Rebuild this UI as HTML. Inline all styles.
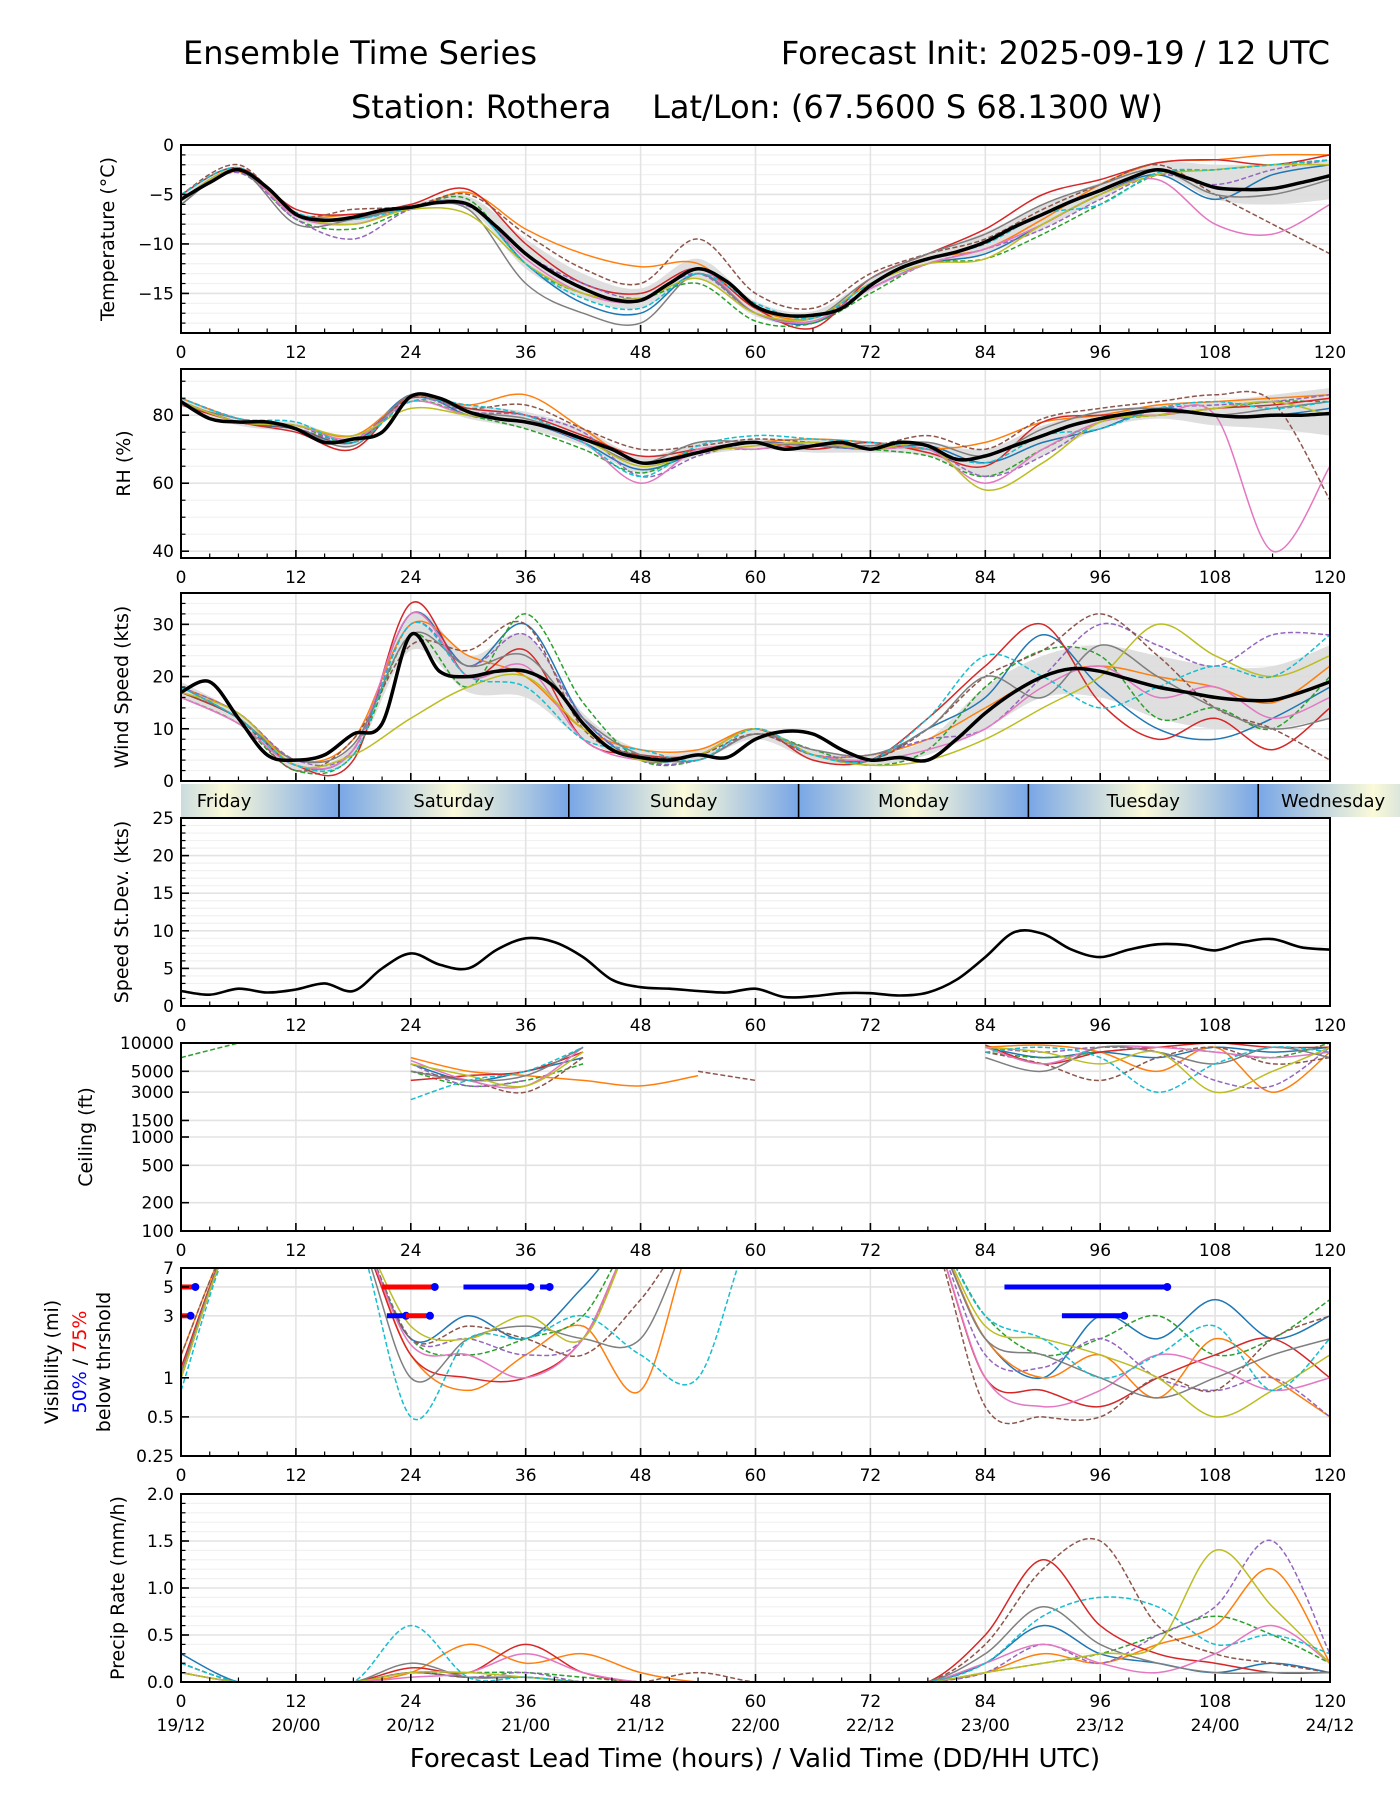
<!DOCTYPE html>
<html><head><meta charset="utf-8"><style>
html,body{margin:0;padding:0;background:#fff;}
svg{display:block;font-family:"DejaVu Sans","Liberation Sans",sans-serif;}
</style></head><body>
<svg id="fig" width="1400" height="1800" viewBox="0 0 1400 1800" xmlns="http://www.w3.org/2000/svg">
<defs>
<linearGradient id="dayg" gradientUnits="userSpaceOnUse" x1="339" y1="0" x2="568.8" y2="0" spreadMethod="repeat">
<stop offset="0" stop-color="#78a6e6"/><stop offset="0.5" stop-color="#fbfad9"/><stop offset="1" stop-color="#78a6e6"/>
</linearGradient>
</defs>
<text x="183" y="64" font-size="32">Ensemble Time Series</text>
<text x="1330" y="64" font-size="32" text-anchor="end">Forecast Init: 2025-09-19 / 12 UTC</text>
<text x="757" y="118" font-size="32" text-anchor="middle" xml:space="preserve" style="white-space:pre">Station: Rothera    Lat/Lon: (67.5600 S 68.1300 W)</text>
<g id="root"></g>
</svg>
<script>
const HM=[0,3,6,9,12,15,18,21,24,27,30,33,36,39,42,45,48,51,54,57,60,63,66,69,72,75,78,81,84,87,90,93,96,99,102,105,108,111,114,117,120];
const H6=[0,6,12,18,24,30,36,42,48,54,60,66,72,78,84,90,96,102,108,114,120];
const COLORS=['#1f77b4','#ff7f0e','#2ca02c','#d62728','#9467bd','#8c564b','#e377c2','#7f7f7f','#bcbd22','#17becf'];
const DASHED=[false,false,true,false,true,true,false,false,false,true];

const tempMean=[-5.5,-3.8,-2.5,-4.3,-7,-7.6,-7.3,-6.6,-6.3,-5.8,-6.0,-8.3,-11,-13,-14.5,-15.6,-15.7,-14,-12.5,-13.8,-16.3,-17.2,-17.2,-16.5,-14.2,-12.5,-11.5,-10.8,-9.8,-8.3,-7,-5.7,-4.6,-3.4,-2.5,-3.3,-4.3,-4.5,-4.4,-3.8,-3.1];
const tempLo=[-5.8,-2.8,-7.5,-8,-6.5,-6.5,-12.5,-15.5,-16.5,-13.5,-17.3,-18,-14.8,-12,-11,-8.5,-5.5,-3,-5.5,-6,-5.5];
const tempHi=[-5,-2.2,-6.7,-7,-6,-5.2,-9.5,-13,-14.5,-11.5,-15.8,-16.8,-13.5,-11,-8.8,-6,-3.8,-1.8,-2,-2,-1.5];
const tempMembers=[
[-5.5,-2.5,-7,-7.5,-6.2,-6,-12,-16,-17,-13,-17,-18,-14.5,-12,-11,-8,-5,-3,-5.5,-3,-2],
[-5.5,-2.7,-7,-7,-6.5,-4.8,-8.5,-11,-12.3,-12,-16.5,-17.5,-14,-11.5,-10.5,-7.5,-4,-1.8,-1.5,-1,-1],
[-6,-2.5,-7.5,-8.5,-6.5,-5.5,-12,-15,-15.5,-14,-17.8,-18,-15,-12,-11.5,-9,-6,-3,-2.5,-2,-1.5],
[-5,-2.3,-6.5,-7,-6,-4.5,-10,-14,-15,-12.5,-16.5,-18.5,-13.5,-11,-8.5,-5,-3.5,-1.8,-1.5,-2,-1],
[-5.5,-2.8,-7.5,-9.5,-6.5,-6.2,-11,-14,-15.5,-13,-17,-17.5,-14.5,-12,-10.5,-8.5,-5.5,-3,-4,-2.5,-1.5],
[-5,-2,-7,-6.5,-6.2,-5,-9,-12.5,-14,-9.5,-15,-16.5,-13,-11,-9.5,-6.5,-4,-2,-5,-8,-11],
[-5.5,-2.6,-7.2,-8,-6.3,-6,-11.5,-15,-15.8,-12.5,-17,-17.8,-14.5,-12,-10.5,-8,-5,-3.5,-8,-9,-6],
[-6,-2.6,-8,-7.5,-6.3,-6.5,-14,-17,-18,-13,-17,-17.5,-13.5,-11,-9,-6,-4,-2.5,-5,-5,-3.5],
[-5.5,-2.5,-7,-8,-6.5,-7,-12,-15,-15.5,-13.5,-17,-17.5,-14,-12,-11.5,-8,-5,-3,-2.5,-2,-2],
[-5,-2.3,-6.8,-7.5,-6.4,-6,-12,-15.5,-16.5,-13,-16,-17.5,-14,-11.5,-10,-7,-6,-2.8,-2.5,-2,-1.5]];

const rhMean=[84,79,78,78,76,72,73,75,85.5,85,81,79,78,76,73,70,66,67,69,71,72,70,71,72,70,72,71,67,68,71,74,77,79,80.5,81.5,81,80,79.5,80,80,80.5];
const rhLo=[83,77,75,71,84,79,76,71,63,68,70,69,69,68,62,68,76,79,77,76,74];
const rhHi=[85,79,78,74,86,83,81,76,68,72,73,73,72,72,70,77,81,83,84,86,88];
const rhMembers=[
[84,78,76,72,86,80,78,72,64,69,72,71,70,71,66,72,76,82,80,80,82],
[85,79,77,74,85,83,86,76,66,70,72,73,72,70,72,78,80,83,84,85,86],
[84,78,77,72,84,80,76,70,63,70,70,72,70,68,62,70,78,80,82,84,84],
[83,78,75,70,86,82,80,74,68,70,72,70,72,69,65,78,80,80,82,83,85],
[85,79,76,73,85,81,80,75,62,68,72,71,70,70,62,68,78,82,83,84,86],
[84,78,76,72,85,82,83,76,70,71,73,72,71,74,70,79,82,84,86,84,55],
[84,78,77,73,84,80,78,72,60,70,70,72,70,70,60,70,78,80,80,40,65],
[83,79,76,71,86,81,79,73,66,72,72,71,71,72,68,76,81,82,80,82,84],
[84,78,77,74,82,80,78,73,65,69,71,72,70,71,58,66,78,80,82,84,80],
[85,79,78,72,84,83,80,72,62,71,74,73,72,70,66,74,76,82,84,82,84]];

const windMean=[17,19,12,5,4,5,9,11,28,21,20,21,21,18,11,6,4.5,4,5,4.5,8,9.5,9,6,4,4.5,4,8,13,17,20,21.5,21,19.5,18,17,16,15.5,15.5,17,19];
const windLo=[16,11,2,5,25,17,16,8,4,4,8,4,3,5,10,16,16,12,10,10,12];
const windHi=[19,13,4,7,32,24,28,13,6,6,10,6,5,8,18,24,26,24,22,22,26];
const windMembers=[
[17,12,3,6,32,22,30,12,4,5,10,5,4,10,16,28,18,10,8,12,18],
[18,13,4,8,30,24,20,10,6,6,10,5,5,8,14,20,22,20,18,15,22],
[16,11,2,5,28,18,32,15,4,4,9,6,3,6,18,25,24,12,14,10,20],
[17,12,3,4,34,20,25,8,5,5,10,4,4,12,22,30,15,8,12,6,14],
[18,13,4,6,30,22,28,12,4,4,9,5,5,8,10,20,30,26,22,28,28],
[17,12,2,8,26,25,30,10,5,5,9,5,4,10,20,25,32,24,14,10,4],
[16,11,3,6,32,20,22,8,4,5,10,5,4,6,10,18,22,16,18,12,16],
[18,12,4,7,28,22,24,12,5,4,9,6,5,10,20,16,26,20,14,10,12],
[17,13,3,5,12,18,20,10,4,5,10,5,3,4,8,14,20,30,24,20,24],
[18,12,3,5,30,20,18,8,6,4,10,5,4,12,24,20,14,18,22,20,28]];

const sdMean=[2,1.5,2.3,1.8,2.2,3,2,5,7,5.5,5,7.5,9,8.5,6.5,3.5,2.5,2.3,2,1.8,2.3,1.2,1.3,1.7,1.7,1.4,1.8,3.5,6.5,9.8,9.6,7.5,6.5,7.5,8.2,8.1,7.4,8.5,8.9,7.8,7.5];

const ceilMembers=[
[8000,null,null,null,6000,4000,5000,7000,null,null,null,null,null,null,9000,7000,8000,7000,9000,8000,9000],
[9000,null,null,null,7000,5000,4500,4000,3500,4500,null,null,null,null,9000,9500,8000,5000,9000,3000,8000],
[7000,10000,null,null,5000,3500,4000,6000,null,null,null,null,null,null,8000,7000,8000,9000,8000,7000,10000],
[9000,null,null,null,4000,4500,5000,8000,null,null,null,null,null,null,9500,6000,8000,9000,10000,9000,9000],
[9000,null,null,null,6000,3500,4000,null,null,null,null,null,null,null,9000,8000,9000,8000,4000,3500,9000],
[8000,null,null,null,5000,4000,3000,7000,null,5000,4000,null,null,null,8000,6000,4000,7000,9000,6000,7000],
[9000,null,null,null,6500,4000,3500,9000,null,null,null,null,null,null,9000,6000,9000,9000,8000,7000,8000],
[8000,null,null,null,5000,4000,4500,9000,null,null,null,null,null,null,7000,5000,9000,8000,6000,9000,7000],
[9000,null,null,null,6000,4500,3500,8000,null,null,null,null,null,null,9000,8000,6000,8000,3000,5000,9000],
[7000,null,null,null,2500,4000,5000,9000,null,null,3500,null,null,null,8000,9000,7000,3000,6000,9000,8000]];

const visMembers=[
[1,15,15,15,2,3,2,5,15,15,15,15,15,15,2,1,3,2,4,2,3],
[1.5,15,15,15,1.5,0.8,1.5,2.5,0.8,15,15,15,15,15,2,1,1.5,0.7,2,1,0.5],
[1,15,15,15,2,1.5,2,3,15,15,15,15,15,15,3,1.5,2,3,1.5,2,4],
[1.2,15,15,15,1.5,1,1,2,15,15,15,15,15,15,1,0.8,0.6,1,1.5,2,1],
[1,15,15,15,2,2,1.5,2,15,15,15,15,15,15,1.5,1.2,2,1,0.8,1,0.5],
[1.5,15,15,15,2,2.5,2,1.5,4,15,15,15,15,15,0.6,0.5,0.5,1,0.8,2,3],
[1,15,15,15,1.8,1.5,1,2,15,15,15,15,15,15,1,0.6,0.8,1.5,1.2,0.8,1],
[1.1,15,15,15,1,2,2.5,2,2,15,15,15,15,15,2,1.5,1,0.7,1,1.5,2],
[1,15,15,15,2.5,2,3,2,15,15,15,15,15,15,2.5,2,1.5,1,0.5,0.8,1.5],
[0.8,15,15,15,0.5,2,2,3,1.5,1,15,15,15,15,3,2,1,1.5,2.5,0.8,2]];
const visSegStart=[0,21,29.5,37.5,86,0,21.5,23.5,92];
const visSegEnd=[1.5,26.5,36.5,38.5,103,1,23.5,26,98.5];
const visSegLevel=[5,5,5,5,5,3,3,3,3];
const visSegColor=['red','red','blue','blue','blue','red','blue','red','blue'];

const precipMembers=[
[0.3,0,0,0,0.1,0.05,0.05,0,0,0,0,0,0,0,0.2,0.6,0.3,0.2,0.1,0.2,0.1],
[0.1,0,0,0,0.1,0.4,0.2,0.3,0.1,0,0,0,0,0,0.1,0.3,0.2,0.4,0.6,1.2,0.2],
[0.2,0,0,0,0.1,0.1,0.1,0.05,0,0,0,0,0,0,0.1,0.2,0.3,0.5,0.7,0.5,0.2],
[0.1,0,0,0,0.15,0.1,0.4,0.1,0,0,0,0,0,0,0.5,1.3,0.6,0.3,0.2,0.1,0.1],
[0.1,0,0,0,0.1,0.05,0.1,0,0,0,0,0,0,0,0.1,0.4,0.2,0.5,0.8,1.5,0.3],
[0.2,0,0,0,0.1,0.05,0.05,0,0,0.1,0,0,0,0,0.4,1.2,1.5,0.6,0.3,0.2,0.1],
[0.1,0,0,0,0.05,0.1,0.3,0.1,0,0,0,0,0,0,0.2,0.4,0.2,0.1,0.3,0.6,0.2],
[0.1,0,0,0,0.2,0.05,0.05,0,0,0,0,0,0,0,0.3,0.8,0.4,0.2,0.1,0.1,0.1],
[0.1,0,0,0,0.1,0.1,0.05,0,0,0,0,0,0,0,0.1,0.2,0.3,0.4,1.4,0.8,0.2],
[0.2,0,0,0,0.6,0.05,0.05,0,0,0,0,0,0,0,0.2,0.7,0.9,0.8,0.4,0.5,0.3]];

const xTicks=[0,12,24,36,48,60,72,84,96,108,120];
const dateLabels=['19/12','20/00','20/12','21/00','21/12','22/00','22/12','23/00','23/12','24/00','24/12'];
const dayNames=['Friday','Saturday','Sunday','Monday','Tuesday'];
const dayNoon=[4.5,28.5,52.5,76.5,100.5];
const dayBounds=[16.5,40.5,64.5,88.5,112.5];

const NS='http://www.w3.org/2000/svg';
const root=document.getElementById('root');
const L=181,R=1330;
function X(h){return L+h/120*(R-L);}
function mk(tag,attrs,parent){const e=document.createElementNS(NS,tag);for(const k in attrs)e.setAttribute(k,attrs[k]);(parent||root).appendChild(e);return e;}
function linY(top,bot,vmin,vmax){return v=>top+(vmax-v)/(vmax-vmin)*(bot-top);}
function logY(top,bot,vmin,vmax){return v=>top+(Math.log10(vmax)-Math.log10(v))/(Math.log10(vmax)-Math.log10(vmin))*(bot-top);}
function smoothPath(pts){
  if(pts.length<2)return '';
  let d='M'+pts[0][0].toFixed(1)+','+pts[0][1].toFixed(1);
  for(let i=0;i<pts.length-1;i++){
    const p0=pts[Math.max(0,i-1)],p1=pts[i],p2=pts[i+1],p3=pts[Math.min(pts.length-1,i+2)];
    const c1=[p1[0]+(p2[0]-p0[0])/6,p1[1]+(p2[1]-p0[1])/6];
    const c2=[p2[0]-(p3[0]-p1[0])/6,p2[1]-(p3[1]-p1[1])/6];
    d+='C'+c1[0].toFixed(1)+','+c1[1].toFixed(1)+' '+c2[0].toFixed(1)+','+c2[1].toFixed(1)+' '+p2[0].toFixed(1)+','+p2[1].toFixed(1);
  }
  return d;
}
function seriesPath(hours,vals,ys){
  let d='',seg=[];
  for(let i=0;i<hours.length;i++){
    if(vals[i]===null){d+=smoothPath(seg);seg=[];continue;}
    seg.push([X(hours[i]),ys(vals[i])]);
  }
  d+=smoothPath(seg);return d;
}
let clipId=0;
function panel(cfg){
  const g=mk('g',{});
  
  
  const top=cfg.top,bot=cfg.bot,ys=cfg.ys;
  (cfg.minor||[]).forEach(v=>{const y=ys(v);const l=mk('line',{x1:L,x2:R,y1:y,y2:y,stroke:'#f1f1f1','stroke-width':1.2},g);});
  cfg.ticks.forEach(v=>{const y=ys(v);const l=mk('line',{x1:L,x2:R,y1:y,y2:y,stroke:'#e3e3e3','stroke-width':1.6},g);});
  xTicks.forEach(h=>{const l=mk('line',{x1:X(h),x2:X(h),y1:top,y2:bot,stroke:'#e3e3e3','stroke-width':1.6},g);});
  const cid='clip'+(clipId++);
  const cp=mk('clipPath',{id:cid},g);mk('rect',{x:L,y:top,width:R-L,height:bot-top},cp);
  const data=mk('g',{'clip-path':'url(#'+cid+')'},g);
  
  
  if(cfg.lo){
    const up=H6.map((h,i)=>[X(h),ys(cfg.hi[i])]);
    const dn=H6.map((h,i)=>[X(h),ys(cfg.lo[i])]).reverse();
    const d=smoothPath(up)+'L'+dn[0][0]+','+dn[0][1]+smoothPath(dn).slice(1).replace(/^[^C]*/,'')+'Z';
    const p=mk('path',{d:d,fill:'#dcdcdc',stroke:'none',opacity:0.9},data);
    
    
  }
  (cfg.members||[]).forEach((m,i)=>{
    const p=mk('path',{d:seriesPath(H6,m,ys),fill:'none',stroke:COLORS[i],'stroke-width':1.5,'stroke-dasharray':DASHED[i]?'5,2.5':'none'},data);
    
    
  });
  if(cfg.mean){
    const p=mk('path',{d:seriesPath(HM,cfg.mean,ys),fill:'none',stroke:'#000','stroke-width':cfg.meanW||3.5,'stroke-linejoin':'round'},data);
    
    
  }
  if(cfg.extra)cfg.extra(data);
  for(let h=0;h<=120;h+=3){const maj=h%12===0;const l=mk('line',{x1:X(h),x2:X(h),y1:bot,y2:bot-(maj?8:4.5),stroke:'#000','stroke-width':maj?1.6:1.2},g);}
  (cfg.minor||[]).forEach(v=>{const y=ys(v);const l=mk('line',{x1:L,x2:L+4.5,y1:y,y2:y,stroke:'#000','stroke-width':1.2},g);});
  cfg.ticks.forEach((v,i)=>{const y=ys(v);const l=mk('line',{x1:L,x2:L+8,y1:y,y2:y,stroke:'#000','stroke-width':1.6},g);
    const t=mk('text',{x:L-7,y:y+6,'font-size':17,'text-anchor':'end'},g);t.textContent=cfg.tickLabels[i];});
  const fr=mk('rect',{x:L,y:top,width:R-L,height:bot-top,fill:'none',stroke:'#000','stroke-width':2},g);
  
  if(cfg.xlabels!==false){xTicks.forEach(h=>{const t=mk('text',{x:X(h),y:bot+25,'font-size':17,'text-anchor':'middle'},g);t.textContent=String(h);});}
  if(cfg.ylabel){const cy=(top+bot)/2;const t=mk('text',{x:0,y:0,'font-size':19,'text-anchor':'middle',transform:'translate('+(cfg.ylx||114)+','+cy+') rotate(-90)'},g);t.textContent=cfg.ylabel;}
  return g;
}
function rng(a,b,s){const r=[];for(let v=a;v<=b+1e-9;v+=s)r.push(+v.toFixed(3));return r;}

panel({name:'temperature',top:145,bot:333,ys:linY(145,333,-19,0),ticks:[0,-5,-10,-15],tickLabels:['0','\u22125','\u221210','\u221215'],minor:rng(-19,0,1),lo:tempLo,hi:tempHi,members:tempMembers,mean:tempMean,ylabel:'Temperature (\u00B0C)',ylx:114});
panel({name:'rh',top:369,bot:558,ys:linY(369,558,38,93.6),ticks:[40,60,80],tickLabels:['40','60','80'],minor:rng(40,90,5),lo:rhLo,hi:rhHi,members:rhMembers,mean:rhMean,ylabel:'RH (%)',ylx:130});
panel({name:'wind-speed',top:593,bot:781,ys:linY(593,781,0,36),ticks:[0,10,20,30],tickLabels:['0','10','20','30'],minor:rng(0,36,2),lo:windLo,hi:windHi,members:windMembers,mean:windMean,ylabel:'Wind Speed (kts)',ylx:128,xlabels:false});
panel({name:'speed-stdev',top:818,bot:1006,ys:linY(818,1006,0,25),ticks:[0,5,10,15,20,25],tickLabels:['0','5','10','15','20','25'],minor:rng(0,25,1),mean:sdMean,meanW:2.6,ylabel:'Speed St.Dev. (kts)',ylx:128});
panel({name:'ceiling',top:1043,bot:1231,ys:logY(1043,1231,100,10000),ticks:[100,200,500,1000,1500,3000,5000,10000],tickLabels:['100','200','500','1000','1500','3000','5000','10000'],members:ceilMembers,ylabel:'Ceiling (ft)',ylx:92});
panel({name:'visibility',top:1268,bot:1456,ys:logY(1268,1456,0.25,7),ticks:[0.25,0.5,1,3,5,7],tickLabels:['0.25','0.5','1','3','5','7'],members:visMembers,
  extra:function(g){const ys=logY(1268,1456,0.25,7);
    for(let i=0;i<visSegStart.length;i++){const y=ys(visSegLevel[i]);
      const l=mk('line',{x1:X(visSegStart[i]),x2:X(visSegEnd[i]),y1:y,y2:y,stroke:visSegColor[i],'stroke-width':5},g);
      
      const c=mk('circle',{cx:X(visSegEnd[i]),cy:y,r:4,fill:'blue'},g);
      }
  }});
panel({name:'precip',top:1494,bot:1682,ys:linY(1494,1682,0,2),ticks:[0,0.5,1,1.5,2],tickLabels:['0.0','0.5','1.0','1.5','2.0'],minor:rng(0,2,0.1),members:precipMembers,ylabel:'Precip Rate (mm/h)',ylx:124});

(function(){const cy=1362;const g=mk('g',{transform:'translate(0,'+cy+') rotate(-90)'});
 
 const t1=mk('text',{x:0,y:58,'font-size':19,'text-anchor':'middle'},g);t1.textContent='Visibility (mi)';
 const t2=mk('text',{x:0,y:86,'font-size':19,'text-anchor':'middle'},g);
 const a=mk('tspan',{fill:'blue'},t2);a.textContent='50%';const b=mk('tspan',{},t2);b.textContent=' / ';const c=mk('tspan',{fill:'red'},t2);c.textContent='75%';
 const t3=mk('text',{x:0,y:110,'font-size':19,'text-anchor':'middle'},g);t3.textContent='below thrshold';
})();

(function(){const g=mk('g',{});
 mk('rect',{x:L,y:784,width:1400-L,height:33,fill:'url(#dayg)'},g);
 dayBounds.forEach(h=>{const l=mk('line',{x1:X(h),x2:X(h),y1:784,y2:817,stroke:'#000','stroke-width':1.6},g);});
 dayNames.forEach((n,i)=>{const t=mk('text',{x:X(dayNoon[i]),y:807,'font-size':18,'text-anchor':'middle'},g);t.textContent=n;});
 const w=mk('text',{x:1281,y:807,'font-size':18},g);w.textContent='Wednesday';
})();

xTicks.forEach((h,i)=>{const t=mk('text',{x:X(h),y:1731,'font-size':17,'text-anchor':'middle'});t.textContent=dateLabels[i];
 
 });
const xt=mk('text',{x:755,y:1767,'font-size':26,'text-anchor':'middle'});xt.textContent='Forecast Lead Time (hours) / Valid Time (DD/HH UTC)';


</script>
</body></html>
